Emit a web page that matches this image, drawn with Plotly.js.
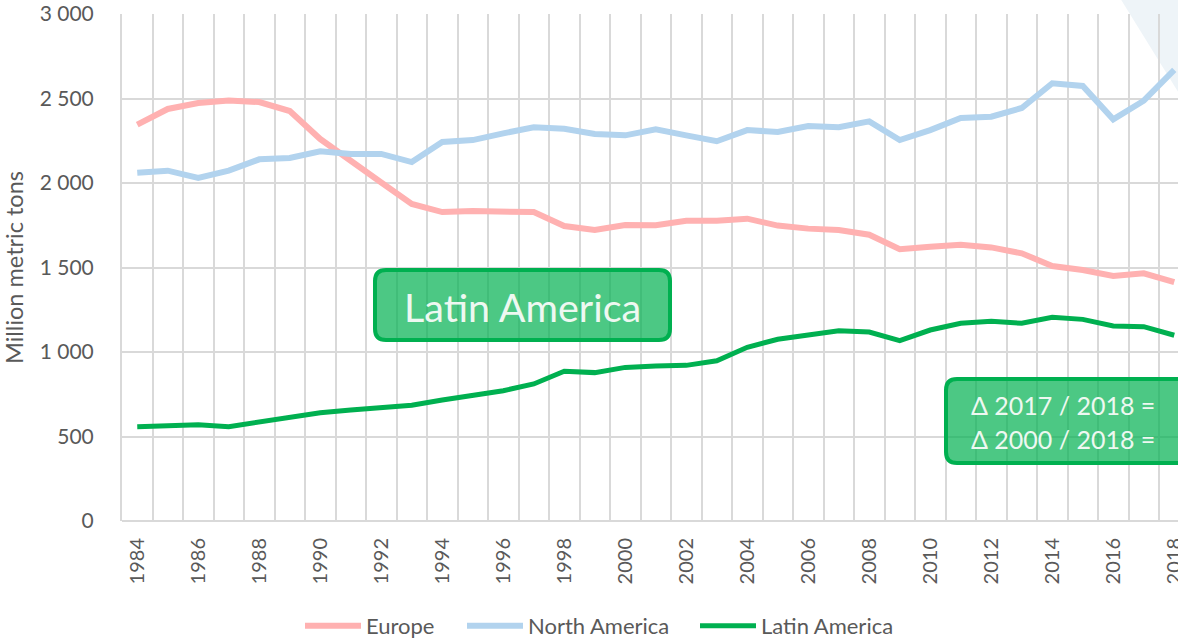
<!DOCTYPE html>
<html>
<head>
<meta charset="utf-8">
<script src="https://cdn.plot.ly/plotly-3.0.1.min.js"></script>
<style>
html,body{margin:0;padding:0;background:#fff;overflow:hidden;}
#chart{width:1178px;height:638px;}
</style>
</head>
<body>
<div id="chart"></div>
<script>
const years = [1984,1985,1986,1987,1988,1989,1990,1991,1992,1993,1994,1995,1996,1997,1998,1999,2000,2001,2002,2003,2004,2005,2006,2007,2008,2009,2010,2011,2012,2013,2014,2015,2016,2017,2018];
const europe = [2345,2438,2473,2488,2479,2426,2260,2136,2003,1876,1828,1834,1834,1828,1745,1722,1751,1750,1777,1777,1789,1748,1730,1722,1694,1608,1623,1635,1619,1584,1509,1485,1450,1466,1414];
const northAmerica = [2061,2073,2030,2073,2140,2148,2188,2172,2172,2124,2243,2254,2294,2330,2321,2290,2282,2318,2282,2247,2313,2302,2337,2330,2365,2254,2313,2385,2392,2444,2590,2574,2377,2487,2669];
const latinAmerica = [558,562,570,558,586,609,641,657,669,685,716,744,771,811,886,878,909,917,921,948,1028,1075,1099,1126,1118,1067,1130,1170,1182,1170,1205,1193,1154,1150,1099];
const tickYears = years.filter(y => y % 2 === 0);
const seriesNames = ["Europe","North America","Latin America"];
const boxLabel = "Latin America";
const deltaLabels = ["Δ 2017 / 2018 =","Δ 2000 / 2018 ="];

const W = 1178, H = 638;
const M = {l:122, r:0, t:14, b:117, autoexpand:false};
const PW = W - M.l - M.r, PH = H - M.t - M.b;
const catW = 30.5;
const px = x => (x - M.l) / PW;
const py = y => (H - M.b - y) / PH;

function roundRect(x0,y0,x1,y1,r){
  const rx = r/PW, ry = r/PH;
  const a=px(x0), b=px(x1), top=py(y0), bot=py(y1);
  return `M ${a+rx},${top} L ${b-rx},${top} Q ${b},${top} ${b},${top-ry} L ${b},${bot+ry} Q ${b},${bot} ${b-rx},${bot} L ${a+rx},${bot} Q ${a},${bot} ${a},${bot+ry} L ${a},${top-ry} Q ${a},${top} ${a+rx},${top} Z`;
}

const font = "Lato, 'Open Sans', sans-serif";
const traces = [
  {x:years, y:europe, name:seriesNames[0], mode:"lines", line:{color:"#ffb1b1", width:6}, legend:"legend"},
  {x:years, y:northAmerica, name:seriesNames[1], mode:"lines", line:{color:"#b2d3ee", width:6}, legend:"legend2"},
  {x:years, y:latinAmerica, name:seriesNames[2], mode:"lines", line:{color:"#00b050", width:5}, legend:"legend3"}
];

const legendBase = {orientation:"h", xanchor:"left", y:-0.207, yanchor:"middle", font:{size:22, color:"#595959"}, itemwidth:56, bgcolor:"rgba(0,0,0,0)"};

const layout = {
  width:W, height:H,
  margin:M,
  paper_bgcolor:"#fff", plot_bgcolor:"rgba(0,0,0,0)",
  separators:", ",
  font:{family:font, color:"#595959"},
  showlegend:true,
  legend:Object.assign({}, legendBase, {x:px(300)}),
  legend2:Object.assign({}, legendBase, {x:px(462)}),
  legend3:Object.assign({}, legendBase, {x:px(695)}),
  xaxis:{
    type:"linear", automargin:false,
    range:[years[0]-0.5, years[0]-0.5 + PW/catW],
    tickmode:"array", tickvals:tickYears, ticktext:tickYears.map(String),
    tickangle:-90, tickfont:{size:20, color:"#595959"},
    ticklabeloverflow:"allow", ticklabelstandoff:12,
    showgrid:false, zeroline:false, showline:false, ticks:"",
    minor:{tick0:years[0]-0.5, dtick:1, showgrid:true, gridcolor:"#d9d9d9", gridwidth:2, ticks:""}
  },
  yaxis:{
    automargin:false,
    range:[0,3000], dtick:500, tickformat:",d",
    tickfont:{size:21, color:"#595959"},
    gridcolor:"#d9d9d9", gridwidth:2,
    zeroline:true, zerolinecolor:"#d9d9d9", zerolinewidth:2,
    showline:true, linecolor:"#d9d9d9", linewidth:2,
    ticks:"", ticklabelstandoff:22,
    title:{text:"Million metric tons", font:{size:23.5, color:"#595959"}, standoff:12}
  },
  shapes:[
    {type:"path", xref:"paper", yref:"paper", layer:"below",
     path:`M ${px(1120)},${py(-2)} L ${px(1180)},${py(95)} L ${px(1180)},${py(-2)} Z`,
     fillcolor:"#eef4f8", line:{width:0}},
    {type:"path", xref:"paper", yref:"paper", layer:"above",
     path:roundRect(375,270,670,340,11),
     fillcolor:"rgba(0,176,80,0.7)", line:{color:"#00b050", width:4}},
    {type:"path", xref:"paper", yref:"paper", layer:"above",
     path:roundRect(946,379,1195,463,11),
     fillcolor:"rgba(0,176,80,0.7)", line:{color:"#00b050", width:4}}
  ],
  annotations:[
    {xref:"paper", yref:"paper", x:px(522), y:py(306), xanchor:"center", yanchor:"middle",
     text:boxLabel, showarrow:false, font:{size:39.5, color:"#eef8f1", family:font}},
    {xref:"paper", yref:"paper", x:px(969), y:py(405), xanchor:"left", yanchor:"middle",
     text:deltaLabels[0], showarrow:false, font:{size:25, color:"#eef8f1", family:font}},
    {xref:"paper", yref:"paper", x:px(969), y:py(439), xanchor:"left", yanchor:"middle",
     text:deltaLabels[1], showarrow:false, font:{size:25, color:"#eef8f1", family:font}}
  ]
};

Plotly.newPlot("chart", traces, layout, {displayModeBar:false, staticPlot:true});
</script>
</body>
</html>
